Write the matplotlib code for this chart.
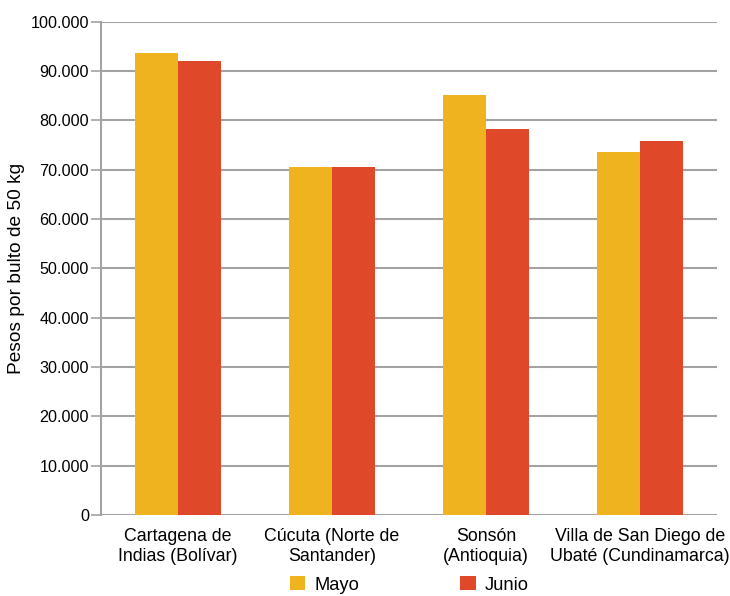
import matplotlib
matplotlib.use("Agg")
import matplotlib.pyplot as plt
import numpy as np
from matplotlib.ticker import FuncFormatter

categories = ["Cartagena de\nIndias (Bolívar)", "Cúcuta (Norte de\nSantander)",
              "Sonsón\n(Antioquia)", "Villa de San Diego de\nUbaté (Cundinamarca)"]
mayo = [93700, 70500, 85200, 73600]
junio = [92100, 70500, 78300, 75900]
series_names = ["Mayo", "Junio"]
colors = ["#F0B320", "#DF4829"]

plt.rcParams['font.family'] = ['Liberation Sans', 'DejaVu Sans']
fig = plt.figure(figsize=(7.3, 5.96), dpi=100)
ax = fig.add_axes([0.1384, 0.1359, 0.8438, 0.8277])

x = np.arange(len(categories))
w = 0.28
ax.bar(x - w/2, mayo, w, color=colors[0], label=series_names[0], zorder=3)
ax.bar(x + w/2, junio, w, color=colors[1], label=series_names[1], zorder=3)

ax.set_xlim(-0.5, len(categories) - 0.5)
ax.set_ylim(0, 100000)
ax.set_yticks(np.arange(0, 100001, 10000))
ax.yaxis.set_major_formatter(FuncFormatter(lambda v, p: f"{int(v):,}".replace(",", ".")))
ax.grid(axis='y', color='#A3A3A3', linewidth=1.5, zorder=0)
ax.set_xticks(x)
ax.set_xticklabels(categories, fontsize=12.8, linespacing=1.3)
ax.tick_params(axis='x', length=0, pad=9)
ax.tick_params(axis='y', labelsize=11.6, length=7, width=1.2, color='#A3A3A3', pad=1.5)
for s in ['top', 'right', 'bottom']:
    ax.spines[s].set_visible(False)
ax.spines['left'].set_color('#A3A3A3')
ax.spines['left'].set_linewidth(1.5)

fig.text(17/730, 1 - 268/596, "Pesos por bulto de 50 kg", rotation=90,
         ha='center', va='center', fontsize=13.8)

fig.legend(loc='center', bbox_to_anchor=(409.5/730, 1 - 585/596), ncol=2, frameon=False,
           fontsize=13.2, handlelength=0.83, handleheight=0.8, columnspacing=5.5,
           handletextpad=0.5, borderpad=0.1)

fig.savefig("out.png", dpi=100)
